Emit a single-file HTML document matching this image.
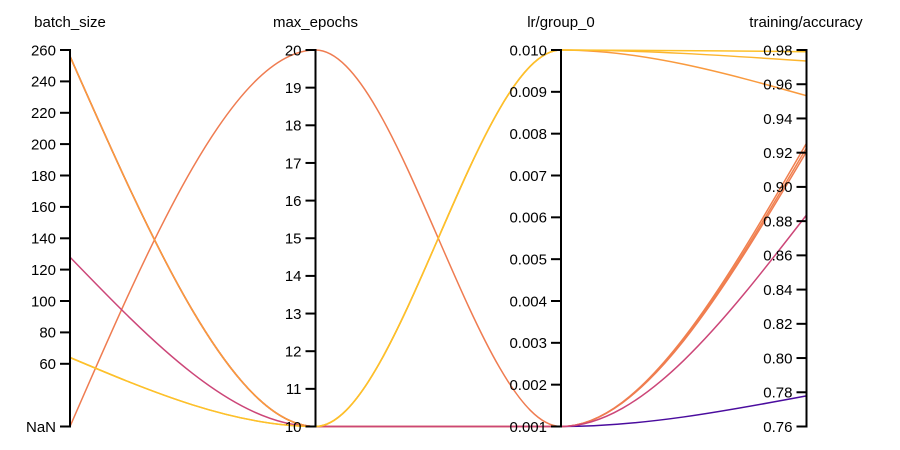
<!DOCTYPE html>
<html>
<head>
<meta charset="utf-8">
<style>
  html, body { margin: 0; padding: 0; background: #fff; }
  svg { display: block; }
  text { font-family: "Liberation Sans", Arial, sans-serif; font-size: 15px; fill: #000; }
  .tl { text-anchor: end; }
  .tt { text-anchor: middle; }
  .ax { stroke: #000; stroke-width: 2; fill: none; }
  .ln { fill: none; stroke-width: 1.5; }
</style>
</head>
<body>
<svg width="900" height="450" viewBox="0 0 900 450" xmlns="http://www.w3.org/2000/svg">
  <!-- Lines (drawn under axes) -->
  <!-- purple 256 -> 10 -> 0.001 -> 0.778 -->
  <path class="ln" stroke="#4a0c9e" d="M70,56.3 C151.83,241.4 233.67,426.5 315.5,426.5 L561,426.5 C642.83,426.5 724.67,411.2 806.5,395.9"/>
  <!-- orange-red 256 -> 10 -> 0.001 -> 0.9255 -->
  <path class="ln" stroke="#f07f4f" d="M70,56.3 C151.83,241.4 233.67,426.5 315.5,426.5 L561,426.5 C642.83,426.5 724.67,284.9 806.5,143.3"/>
  <!-- orange-red 256 -> 10 -> 0.001 -> 0.9228 -->
  <path class="ln" stroke="#f1814d" d="M70,56.3 C151.83,241.4 233.67,426.5 315.5,426.5 L561,426.5 C642.83,426.5 724.67,287.2 806.5,147.9"/>
  <!-- orange-red NaN -> 20 -> 0.001 -> 0.9206 -->
  <path class="ln" stroke="#ef7c51" d="M70,426.5 C151.83,238.25 233.67,50 315.5,50 C397.33,50 479.17,426.5 561,426.5 C642.83,426.5 724.67,289.1 806.5,151.7"/>
  <!-- orange 256 -> 10 -> 0.01 -> 0.953 -->
  <path class="ln" stroke="#f99a3e" d="M70,56.3 C151.83,241.4 233.67,426.5 315.5,426.5 C397.33,426.5 479.17,50 561,50 C642.83,50 724.67,72.84 806.5,95.7"/>
  <!-- magenta 128 -> 10 -> 0.001 -> 0.8836 -->
  <path class="ln" stroke="#cc4678" d="M70,257.1 C151.83,341.8 233.67,426.5 315.5,426.5 L561,426.5 C642.83,426.5 724.67,320.75 806.5,215"/>
  <!-- yellow 64 -> 10 -> 0.01 -> 0.9736 -->
  <path class="ln" stroke="#fcb52e" d="M70,357.5 C151.83,392 233.67,426.5 315.5,426.5 C397.33,426.5 479.17,50 561,50 C642.83,50 724.67,55.5 806.5,61"/>
  <!-- yellow 64 -> 10 -> 0.01 -> 0.979 -->
  <path class="ln" stroke="#fdc12a" d="M70,357.5 C151.83,392 233.67,426.5 315.5,426.5 C397.33,426.5 479.17,50 561,50 C642.83,50 724.67,50.85 806.5,51.7"/>

  <!-- Axis 1: batch_size -->
  <text class="tt" x="70" y="27">batch_size</text>
  <line class="ax" x1="70" y1="49" x2="70" y2="427.5"/>
  <g class="ax">
    <line x1="60" y1="50" x2="70" y2="50"/>
    <line x1="60" y1="81.4" x2="70" y2="81.4"/>
    <line x1="60" y1="112.8" x2="70" y2="112.8"/>
    <line x1="60" y1="144.1" x2="70" y2="144.1"/>
    <line x1="60" y1="175.5" x2="70" y2="175.5"/>
    <line x1="60" y1="206.9" x2="70" y2="206.9"/>
    <line x1="60" y1="238.3" x2="70" y2="238.3"/>
    <line x1="60" y1="269.6" x2="70" y2="269.6"/>
    <line x1="60" y1="301" x2="70" y2="301"/>
    <line x1="60" y1="332.4" x2="70" y2="332.4"/>
    <line x1="60" y1="363.8" x2="70" y2="363.8"/>
    <line x1="60" y1="426.5" x2="70" y2="426.5"/>
  </g>
  <text class="tl" x="56" y="55.3">260</text>
  <text class="tl" x="56" y="86.7">240</text>
  <text class="tl" x="56" y="118.1">220</text>
  <text class="tl" x="56" y="149.4">200</text>
  <text class="tl" x="56" y="180.8">180</text>
  <text class="tl" x="56" y="212.2">160</text>
  <text class="tl" x="56" y="243.6">140</text>
  <text class="tl" x="56" y="274.9">120</text>
  <text class="tl" x="56" y="306.3">100</text>
  <text class="tl" x="56" y="337.7">80</text>
  <text class="tl" x="56" y="369.1">60</text>
  <text class="tl" x="56" y="431.8">NaN</text>

  <!-- Axis 2: max_epochs -->
  <text class="tt" x="315.5" y="27">max_epochs</text>
  <line class="ax" x1="315.5" y1="49" x2="315.5" y2="427.5"/>
  <g class="ax">
    <line x1="305.5" y1="50" x2="315.5" y2="50"/>
    <line x1="305.5" y1="87.65" x2="315.5" y2="87.65"/>
    <line x1="305.5" y1="125.3" x2="315.5" y2="125.3"/>
    <line x1="305.5" y1="162.95" x2="315.5" y2="162.95"/>
    <line x1="305.5" y1="200.6" x2="315.5" y2="200.6"/>
    <line x1="305.5" y1="238.25" x2="315.5" y2="238.25"/>
    <line x1="305.5" y1="275.9" x2="315.5" y2="275.9"/>
    <line x1="305.5" y1="313.55" x2="315.5" y2="313.55"/>
    <line x1="305.5" y1="351.2" x2="315.5" y2="351.2"/>
    <line x1="305.5" y1="388.85" x2="315.5" y2="388.85"/>
    <line x1="305.5" y1="426.5" x2="315.5" y2="426.5"/>
  </g>
  <text class="tl" x="301.5" y="55.3">20</text>
  <text class="tl" x="301.5" y="92.95">19</text>
  <text class="tl" x="301.5" y="130.6">18</text>
  <text class="tl" x="301.5" y="168.25">17</text>
  <text class="tl" x="301.5" y="205.9">16</text>
  <text class="tl" x="301.5" y="243.55">15</text>
  <text class="tl" x="301.5" y="281.2">14</text>
  <text class="tl" x="301.5" y="318.85">13</text>
  <text class="tl" x="301.5" y="356.5">12</text>
  <text class="tl" x="301.5" y="394.15">11</text>
  <text class="tl" x="301.5" y="431.8">10</text>

  <!-- Axis 3: lr/group_0 -->
  <text class="tt" x="561" y="27">lr/group_0</text>
  <line class="ax" x1="561" y1="49" x2="561" y2="427.5"/>
  <g class="ax">
    <line x1="551" y1="50" x2="561" y2="50"/>
    <line x1="551" y1="91.83" x2="561" y2="91.83"/>
    <line x1="551" y1="133.67" x2="561" y2="133.67"/>
    <line x1="551" y1="175.5" x2="561" y2="175.5"/>
    <line x1="551" y1="217.33" x2="561" y2="217.33"/>
    <line x1="551" y1="259.17" x2="561" y2="259.17"/>
    <line x1="551" y1="301" x2="561" y2="301"/>
    <line x1="551" y1="342.83" x2="561" y2="342.83"/>
    <line x1="551" y1="384.67" x2="561" y2="384.67"/>
    <line x1="551" y1="426.5" x2="561" y2="426.5"/>
  </g>
  <text class="tl" x="547" y="55.3">0.010</text>
  <text class="tl" x="547" y="97.13">0.009</text>
  <text class="tl" x="547" y="138.97">0.008</text>
  <text class="tl" x="547" y="180.8">0.007</text>
  <text class="tl" x="547" y="222.63">0.006</text>
  <text class="tl" x="547" y="264.47">0.005</text>
  <text class="tl" x="547" y="306.3">0.004</text>
  <text class="tl" x="547" y="348.13">0.003</text>
  <text class="tl" x="547" y="389.97">0.002</text>
  <text class="tl" x="547" y="431.8">0.001</text>

  <!-- Axis 4: training/accuracy -->
  <text class="tt" x="806" y="27">training/accuracy</text>
  <line class="ax" x1="806.5" y1="49" x2="806.5" y2="427.5"/>
  <g class="ax">
    <line x1="796.5" y1="50" x2="806.5" y2="50"/>
    <line x1="796.5" y1="84.23" x2="806.5" y2="84.23"/>
    <line x1="796.5" y1="118.45" x2="806.5" y2="118.45"/>
    <line x1="796.5" y1="152.68" x2="806.5" y2="152.68"/>
    <line x1="796.5" y1="186.91" x2="806.5" y2="186.91"/>
    <line x1="796.5" y1="221.14" x2="806.5" y2="221.14"/>
    <line x1="796.5" y1="255.36" x2="806.5" y2="255.36"/>
    <line x1="796.5" y1="289.59" x2="806.5" y2="289.59"/>
    <line x1="796.5" y1="323.82" x2="806.5" y2="323.82"/>
    <line x1="796.5" y1="358.05" x2="806.5" y2="358.05"/>
    <line x1="796.5" y1="392.27" x2="806.5" y2="392.27"/>
    <line x1="796.5" y1="426.5" x2="806.5" y2="426.5"/>
  </g>
  <text class="tl" x="792.5" y="55.3">0.98</text>
  <text class="tl" x="792.5" y="89.53">0.96</text>
  <text class="tl" x="792.5" y="123.75">0.94</text>
  <text class="tl" x="792.5" y="157.98">0.92</text>
  <text class="tl" x="792.5" y="192.21">0.90</text>
  <text class="tl" x="792.5" y="226.44">0.88</text>
  <text class="tl" x="792.5" y="260.66">0.86</text>
  <text class="tl" x="792.5" y="294.89">0.84</text>
  <text class="tl" x="792.5" y="329.12">0.82</text>
  <text class="tl" x="792.5" y="363.35">0.80</text>
  <text class="tl" x="792.5" y="397.57">0.78</text>
  <text class="tl" x="792.5" y="431.8">0.76</text>
</svg>
</body>
</html>
